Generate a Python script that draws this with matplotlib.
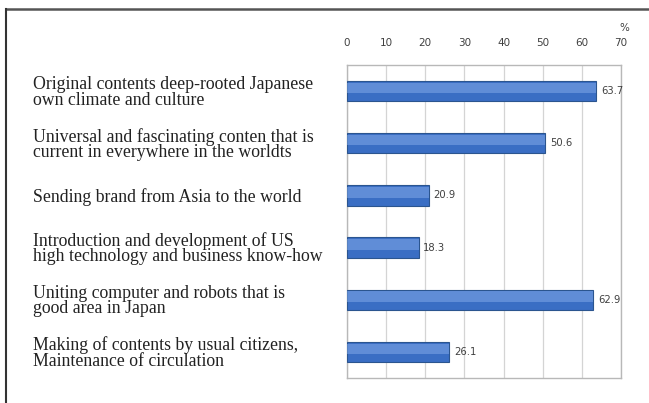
import numpy as np
import matplotlib.pyplot as plt
from matplotlib.lines import Line2D

categories = [
    "Original contents deep-rooted Japanese\nown climate and culture",
    "Universal and fascinating conten that is\ncurrent in everywhere in the worldts",
    "Sending brand from Asia to the world",
    "Introduction and development of US\nhigh technology and business know-how",
    "Uniting computer and robots that is\ngood area in Japan",
    "Making of contents by usual citizens,\nMaintenance of circulation",
]
values = [63.7, 50.6, 20.9, 18.3, 62.9, 26.1]
ticks = [0, 10, 20, 30, 40, 50, 60, 70]

small = ["Liberation Sans Narrow", "DejaVu Sans"]

fig = plt.figure(figsize=(6.49, 4.03), dpi=100)
ax = fig.add_axes([0.5347, 0.062, 0.4222, 0.7767])

y = np.arange(len(values))
ax.barh(y, values, height=0.39, color="#3a6ec4", edgecolor="#2b558f",
        linewidth=0.8, zorder=3)
# lighter upper part to mimic the gradient fill
ax.barh(y - 0.06, values, height=0.2, color="#80a8e8", linewidth=0,
        alpha=0.55, zorder=4)

for yi, v in zip(y, values):
    ax.text(v + 1.2, yi, f"{v:.1f}", va="center", ha="left",
            fontsize=7.2, color="#404040", family=small)

ax.set_xlim(0, 70)
ax.set_ylim(len(values) - 0.5, -0.5)
ax.set_xticks(ticks)
ax.set_xticklabels([str(t) for t in ticks], family=small)
ax.xaxis.tick_top()
ax.tick_params(axis="x", length=0, pad=12, labelsize=7.5, labelcolor="#404040")
ax.grid(axis="x", color="#d4d4d4", linewidth=0.9, zorder=0)
for s in ax.spines.values():
    s.set_color("#b8b8b8")
    s.set_linewidth(1.0)

ax.set_yticks(y)
ax.set_yticklabels(categories, family="Liberation Serif", fontsize=12.8,
                   ha="left", linespacing=0.88, color="#222222")
ax.tick_params(axis="y", length=0, pad=226)

fig.text(0.962, 0.93, "%", fontsize=7.5, color="#404040", ha="center",
         va="center", family=small)

# outer frame lines (top and left)
fig.add_artist(Line2D([0.009, 1.0], [0.978, 0.978], color="#555555", linewidth=1.8))
fig.add_artist(Line2D([0.009, 0.009], [0.0, 0.978], color="#333333", linewidth=1.5))

fig.savefig("out.png", dpi=100)
